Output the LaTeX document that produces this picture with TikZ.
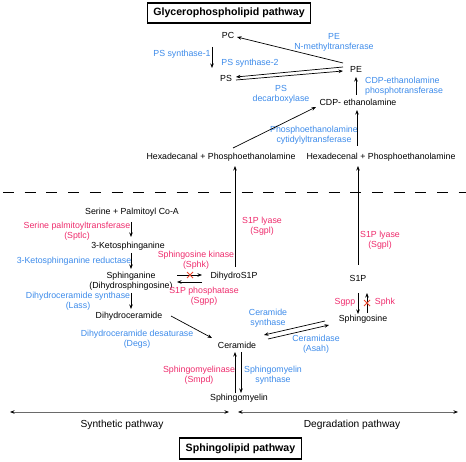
\documentclass[tikz,border=0pt]{standalone}
\usepackage{fontspec}
\setmainfont{Liberation Sans}
\usetikzlibrary{arrows.meta}
\definecolor{enzred}{HTML}{EE2B6C}
\definecolor{enzblue}{HTML}{3D8BEA}
\definecolor{xred}{HTML}{E8452C}
\definecolor{linegray}{HTML}{6A6A6A}
\begin{document}
\begin{tikzpicture}[x=1pt,y=-1pt,
  every node/.style={inner sep=0pt,font=\fontsize{8.8}{10}\selectfont},
  met/.style={text=black},
  red/.style={text=enzred,align=center},
  blue/.style={text=enzblue,align=center},
  titlebox/.style={draw,line width=1.5pt,font=\fontsize{10.6}{12}\selectfont\bfseries,minimum height=20pt,inner xsep=6pt},
  arr/.style={line width=0.7pt,-{Stealth[length=4.5pt,width=3.5pt]}},
  dbl/.style={line width=0.9pt,draw=linegray,{Stealth[length=4.5pt,width=3.5pt,color=black]}-{Stealth[length=4.5pt,width=3.5pt,color=black]}},
  xmark/.style={draw=xred,line width=0.9pt}]
\useasboundingbox (0,0) rectangle (466,462);

% Glycerophospholipid part
\node[titlebox] (t1) at (229,13) {Glycerophospholipid pathway};
\node[met] (PC) at (228,35) {PC};
\node[met] (PE) at (356,69) {PE};
\node[met] (PS) at (226,78) {PS};
\node[met] (CDP) at (358,102) {CDP- ethanolamine};
\node[blue] (lPEN) at (334,42) {PE\\N-methyltransferase};
\node[blue] (lPS1) at (182,54) {PS synthase-1};
\node[blue] (lPS2) at (250,63) {PS synthase-2};
\node[blue] (lPSD) at (281,94) {PS\\decarboxylase};
\node[blue,align=left,anchor=west] (lCPT) at (365,86.5) {CDP-ethanolamine\\phosphotransferase};
\node[blue] (lPCT) at (314,135.5) {Phosphoethanolamine\\cytidylyltransferase};
\node[met] (HexA) at (221,157) {Hexadecanal + Phosphoethanolamine};
\node[met] (HexE) at (381,157) {Hexadecenal + Phosphoethanolamine};

\draw[arr] ([shift={(-13,-6)}]PE.center) -- ([shift={(9,2)}]PC.center);
\draw[arr] ([shift={(-16,12)}]PC.center) -- ([shift={(-14,-10)}]PS.center);
\draw[arr] ([shift={(-13,-2)}]PE.center) -- ([shift={(10,-1)}]PS.center);
\draw[arr] ([shift={(10,2)}]PS.center) -- ([shift={(-13,2)}]PE.center);
\draw[arr] ([shift={(-2,-7)}]CDP.center) -- ([shift={(0,8)}]PE.center);
\draw[arr] ([shift={(12,-9)}]HexA.center) -- ([shift={(-42,5)}]CDP.center);
\draw[arr] ([shift={(-24,-11)}]HexE.center) -- ([shift={(-1,8)}]CDP.center);

% divider
\draw[line width=0.9pt,dash pattern=on 11pt off 10.7pt] (3,192) -- (466,192);

% Sphingolipid part
\node[met] (Ser) at (132,212) {Serine + Palmitoyl Co-A};
\node[red] (lSpt) at (77,231.5) {Serine palmitoyltransferase\\(Sptlc)};
\node[red] (lLy1) at (262,226.5) {S1P lyase\\(Sgpl)};
\node[red] (lLy2) at (380,240.5) {S1P lyase\\(Sgpl)};
\node[met] (Keto) at (128,246) {3-Ketosphinganine};
\node[blue] (lKR) at (74,261) {3-Ketosphinganine reductase};
\node[red] (lSphk) at (196,260) {Sphingosine kinase\\(Sphk)};
\node[met,align=center] (Sa) at (131,281) {Sphinganine\\(Dihydrosphingosine)};
\node[met] (DS1P) at (234,276) {DihydroS1P};
\node[red] (lSgpp) at (204,296) {S1P phosphatase\\(Sgpp)};
\node[blue] (lLass) at (78,301.5) {Dihydroceramide synthase\\(Lass)};
\node[met] (DCer) at (129,316) {Dihydroceramide};
\node[blue] (lDegs) at (137,339.5) {Dihydroceramide desaturase\\(Degs)};
\node[met] (Cer) at (237,345) {Ceramide};
\node[met] (S1P) at (358,278) {S1P};
\node[red] (lSgpp2) at (345,302) {Sgpp};
\node[red] (lSphk2) at (385,302) {Sphk};
\node[met] (So) at (363,319) {Sphingosine};
\node[blue] (lCerS) at (268,318) {Ceramide\\synthase};
\node[blue] (lAsah) at (316,344.5) {Ceramidase\\(Asah)};
\node[red] (lSmpd) at (199,375) {Sphingomyelinase\\(Smpd)};
\node[blue] (lSMS) at (273,375) {Sphingomyelin\\synthase};
\node[met] (SM) at (239,398) {Sphingomyelin};
\node[met,font=\fontsize{10.2}{12}\selectfont] (Syn) at (122,425) {Synthetic pathway};
\node[met,font=\fontsize{10.2}{12}\selectfont] (Deg) at (352,425) {Degradation pathway};
\node[titlebox,minimum height=21pt] (t2) at (240.5,448.5) {Sphingolipid pathway};

\draw[arr] ([shift={(1,-9)}]DS1P.center) -- ([shift={(14,9)}]HexA.center);
\draw[arr] ([shift={(0,-13)}]S1P.center) -- ([shift={(-23,9)}]HexE.center);
\draw[arr] ([shift={(-1,10)}]Ser.center) -- ([shift={(3,-9)}]Keto.center);
\draw[arr] ([shift={(3,7)}]Keto.center) -- ([shift={(0,-12)}]Sa.center);
\draw[arr] ([shift={(46,-6)}]Sa.center) -- ([shift={(-32,-1)}]DS1P.center);
\draw[arr] ([shift={(-32,6)}]DS1P.center) -- ([shift={(46,1)}]Sa.center);
\draw[xmark] ([shift={(56,-9)}]Sa.center) -- ([shift={(62,-3)}]Sa.center)
             ([shift={(56,-3)}]Sa.center) -- ([shift={(62,-9)}]Sa.center);
\draw[arr] ([shift={(0,12)}]Sa.center) -- ([shift={(2,-7)}]DCer.center);
\draw[arr] ([shift={(42,0)}]DCer.center) -- ([shift={(-25,-7)}]Cer.center);
\draw[arr] ([shift={(0,15)}]S1P.center) -- ([shift={(-5,-5)}]So.center);
\draw[arr] ([shift={(4,-6)}]So.center) -- ([shift={(9,15)}]S1P.center);
\draw[xmark] ([shift={(6,22)}]S1P.center) -- ([shift={(12,28)}]S1P.center)
             ([shift={(6,28)}]S1P.center) -- ([shift={(12,22)}]S1P.center);
\draw[arr] ([shift={(-38,2)}]So.center) -- ([shift={(27,-10)}]Cer.center);
\draw[arr] ([shift={(31,-6)}]Cer.center) -- ([shift={(-34,6)}]So.center);
\draw[arr] ([shift={(-4,-5)}]SM.center) -- ([shift={(-2,7)}]Cer.center);
\draw[arr] ([shift={(4,7)}]Cer.center) -- ([shift={(2,-5)}]SM.center);
\draw[dbl] ([shift={(-112,-13)}]Syn.center) -- ([shift={(107,-13)}]Syn.center);
\draw[dbl] ([shift={(-114,-13)}]Deg.center) -- ([shift={(106,-13)}]Deg.center);
\end{tikzpicture}
\end{document}
